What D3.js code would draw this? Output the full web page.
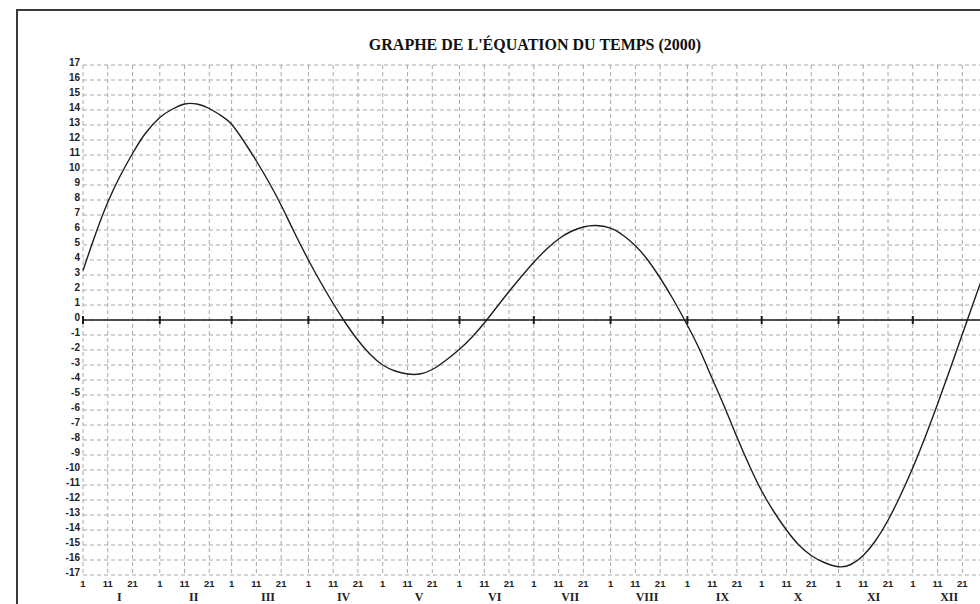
<!DOCTYPE html>
<html>
<head>
<meta charset="utf-8">
<script src="https://cdn.jsdelivr.net/npm/d3@7"></script>
<style>
  body { margin: 0; background: #fff; }
  svg { display: block; }
</style>
</head>
<body>
<svg id="chart"></svg>
<script>
const title = "GRAPHE DE L'ÉQUATION DU TEMPS (2000)";
const monthLabels = ["I", "II", "III", "IV", "V", "VI", "VII", "VIII", "IX", "X", "XI", "XII"];
const dayTicks = [1, 11, 21];
const yTicks = [17, 16, 15, 14, 13, 12, 11, 10, 9, 8, 7, 6, 5, 4, 3, 2, 1, 0,
  -1, -2, -3, -4, -5, -6, -7, -8, -9, -10, -11, -12, -13, -14, -15, -16, -17];

// date (month-day, year 2000) and equation of time in minutes
const dates = [
  "01-01", "01-06", "01-11", "01-16", "01-21", "01-26",
  "02-01", "02-06", "02-11", "02-16", "02-21", "02-26",
  "03-01", "03-06", "03-11", "03-16", "03-21", "03-26",
  "04-01", "04-06", "04-11", "04-16", "04-21", "04-26",
  "05-01", "05-06", "05-11", "05-16", "05-21", "05-26",
  "06-01", "06-06", "06-11", "06-16", "06-21", "06-26",
  "07-01", "07-06", "07-11", "07-16", "07-21", "07-26",
  "08-01", "08-06", "08-11", "08-16", "08-21", "08-26",
  "09-01", "09-06", "09-11", "09-16", "09-21", "09-26",
  "10-01", "10-06", "10-11", "10-16", "10-21", "10-26",
  "11-01", "11-06", "11-11", "11-16", "11-21", "11-26",
  "12-01", "12-06", "12-11", "12-16", "12-21", "12-26", "12-31"
];
const minutes = [
  3.3, 5.7, 7.85, 9.6, 11.1, 12.4,
  13.5, 14.05, 14.4, 14.4, 14.1, 13.6,
  13.05, 11.9, 10.6, 9.2, 7.65, 5.95,
  4.0, 2.5, 1.1, -0.2, -1.35, -2.3,
  -3.0, -3.4, -3.6, -3.6, -3.3, -2.75,
  -1.95, -1.15, -0.2, 0.85, 1.9, 2.9,
  3.85, 4.7, 5.4, 5.9, 6.2, 6.3,
  6.12, 5.65, 4.95, 4.0, 2.8, 1.45,
  -0.35, -2.0, -3.9, -5.8, -7.8, -9.7,
  -11.4, -12.8, -14.0, -15.0, -15.7, -16.15,
  -16.45, -16.3, -15.7, -14.7, -13.35, -11.7,
  -9.85, -7.8, -5.6, -3.3, -0.95, 1.4, 3.7
];

class EquationChart {
    margin = {
        top: 65, right: 0, bottom: 29, left: 83
    }

    constructor(svg, width = 980, height = 604) {
        this.svg = svg;
        this.width = width;
        this.height = height;
    }

    initialize() {
        this.svg = d3.select(this.svg)
            .attr("width", this.width)
            .attr("height", this.height);

        this.frame = this.svg.append("rect");
        this.grid = this.svg.append("g");
        this.axis = this.svg.append("g");
        this.labels = this.svg.append("g");
        this.line = this.svg.append("path");

        this.xScale = d3.scaleTime()
            .domain([new Date(2000, 0, 1), new Date(2001, 0, 1)])
            .range([this.margin.left, this.margin.left + 366 * 2.477]);
        this.yScale = d3.scaleLinear()
            .domain([-17, 17])
            .range([this.height - this.margin.bottom, this.margin.top]);

        this.frame
            .attr("x", 17).attr("y", 10)
            .attr("width", 1000).attr("height", 700)
            .attr("fill", "none")
            .attr("stroke", "#3a3a3a")
            .attr("stroke-width", 2);

        this.svg.append("text")
            .attr("x", 535)
            .attr("y", 50)
            .attr("text-anchor", "middle")
            .attr("font-family", "'Liberation Serif', 'Times New Roman', serif")
            .attr("font-weight", "bold")
            .attr("font-size", 16)
            .attr("fill", "#111")
            .text(title);
    }

    update() {
        const parse = d3.timeParse("%Y-%m-%d");
        const data = dates.map((d, i) => ({ date: parse("2000-" + d), value: minutes[i] }));

        const gridDates = [];
        monthLabels.forEach((m, i) => dayTicks.forEach(d => gridDates.push({ date: new Date(2000, i, d), day: d })));
        const monthStarts = monthLabels.map((m, i) => new Date(2000, i, 1));

        const x0 = this.margin.left;
        const x1 = this.xScale.range()[1];
        const [yBottom, yTop] = this.yScale.range();

        // horizontal dashed grid
        this.grid.selectAll("line.h")
            .data(yTicks)
            .join("line")
            .attr("class", "h")
            .attr("x1", x0).attr("x2", x1)
            .attr("y1", d => this.yScale(d)).attr("y2", d => this.yScale(d))
            .attr("stroke", "#a8a8a8")
            .attr("stroke-width", 1)
            .attr("stroke-dasharray", "4,3");

        // vertical dashed grid on 1, 11, 21 of each month
        this.grid.selectAll("line.v")
            .data(gridDates)
            .join("line")
            .attr("class", "v")
            .attr("x1", d => this.xScale(d.date)).attr("x2", d => this.xScale(d.date))
            .attr("y1", yTop).attr("y2", yBottom)
            .attr("stroke", "#a8a8a8")
            .attr("stroke-width", 1)
            .attr("stroke-dasharray", "4,3");

        // zero line with month ticks
        this.axis.append("line")
            .attr("x1", x0).attr("x2", x1)
            .attr("y1", this.yScale(0)).attr("y2", this.yScale(0))
            .attr("stroke", "#1a1a1a")
            .attr("stroke-width", 1.6);
        this.axis.selectAll("line.tick")
            .data(monthStarts)
            .join("line")
            .attr("class", "tick")
            .attr("x1", d => this.xScale(d)).attr("x2", d => this.xScale(d))
            .attr("y1", this.yScale(0) - 4).attr("y2", this.yScale(0) + 4)
            .attr("stroke", "#1a1a1a")
            .attr("stroke-width", 2);

        const sans = "'Liberation Sans', Arial, sans-serif";

        this.labels.selectAll("text.y")
            .data(yTicks)
            .join("text")
            .attr("class", "y")
            .attr("x", 80)
            .attr("y", d => this.yScale(d) + 1)
            .attr("text-anchor", "end")
            .attr("font-family", sans)
            .attr("font-weight", "bold")
            .attr("font-size", 10)
            .attr("fill", "#222")
            .text(d => d);

        this.labels.selectAll("text.day")
            .data(gridDates)
            .join("text")
            .attr("class", "day")
            .attr("x", d => this.xScale(d.date))
            .attr("y", 587)
            .attr("text-anchor", "middle")
            .attr("font-family", sans)
            .attr("font-weight", "bold")
            .attr("font-size", 9.5)
            .attr("fill", "#222")
            .text(d => d.day);

        this.labels.selectAll("text.month")
            .data(monthLabels)
            .join("text")
            .attr("class", "month")
            .attr("x", (d, i) => (this.xScale(new Date(2000, i, 1)) + this.xScale(new Date(2000, i + 1, 1))) / 2 - 2)
            .attr("y", 601)
            .attr("text-anchor", "middle")
            .attr("font-family", "'Liberation Serif', 'Times New Roman', serif")
            .attr("font-weight", "bold")
            .attr("font-size", 12)
            .attr("fill", "#222")
            .text(d => d);

        const lineGen = d3.line()
            .x(d => this.xScale(d.date))
            .y(d => this.yScale(d.value))
            .curve(d3.curveNatural);

        this.line
            .datum(data)
            .attr("d", lineGen)
            .attr("fill", "none")
            .attr("stroke", "#1e1e1e")
            .attr("stroke-width", 1.4);
    }
}

const chart = new EquationChart(document.getElementById("chart"));
chart.initialize();
chart.update();
</script>
</body>
</html>
